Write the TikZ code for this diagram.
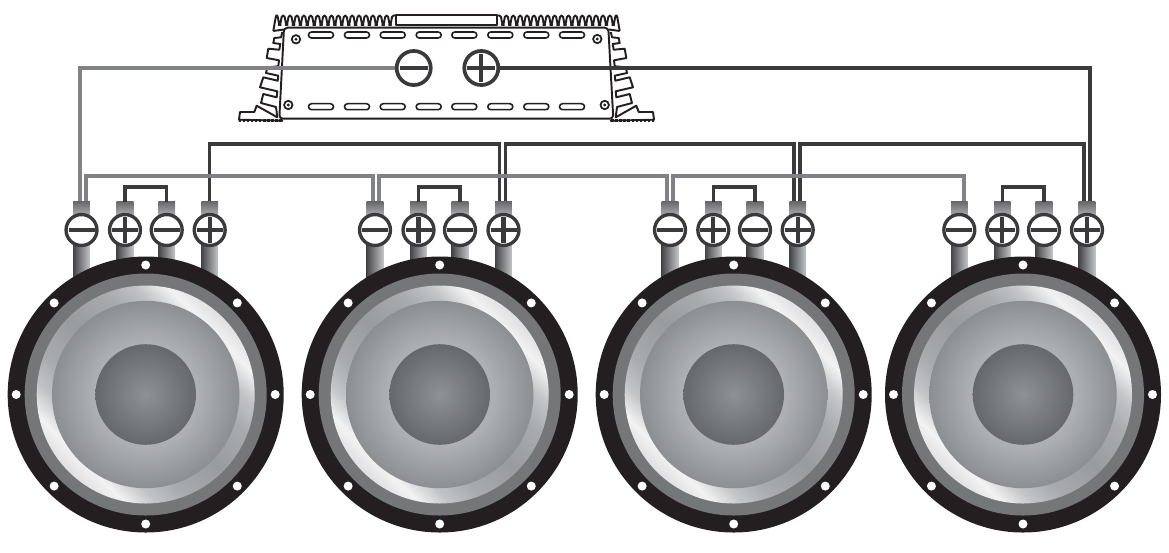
\documentclass[tikz,border=0pt]{standalone}
\definecolor{wiregray}{HTML}{808285}
\definecolor{wiredark}{HTML}{3A3A3C}
\definecolor{flange}{HTML}{231F20}
\definecolor{surround}{HTML}{747678}
\pgfdeclareradialshading{coneshade}{\pgfpoint{0bp}{0bp}}{%
  rgb(0bp)=(0.70,0.71,0.72);
  rgb(14bp)=(0.68,0.69,0.70);
  rgb(25bp)=(0.55,0.56,0.57);
  rgb(50bp)=(0.55,0.56,0.57)}
\pgfdeclareradialshading{capshade}{\pgfpoint{0bp}{0bp}}{%
  rgb(0bp)=(0.56,0.57,0.58);
  rgb(25bp)=(0.40,0.41,0.42);
  rgb(50bp)=(0.40,0.41,0.42)}
\pgfdeclarehorizontalshading{rimshade}{100bp}{%
  rgb(0bp)=(0.88,0.88,0.89);
  rgb(25bp)=(0.88,0.88,0.89);
  rgb(29bp)=(0.95,0.95,0.95);
  rgb(34bp)=(0.76,0.77,0.78);
  rgb(40bp)=(0.66,0.67,0.68);
  rgb(50bp)=(0.60,0.61,0.62);
  rgb(60bp)=(0.66,0.67,0.68);
  rgb(66bp)=(0.76,0.77,0.78);
  rgb(71bp)=(0.95,0.95,0.95);
  rgb(75bp)=(0.88,0.88,0.89);
  rgb(100bp)=(0.88,0.88,0.89)}
\pgfdeclarehorizontalshading{postshade}{100bp}{%
  rgb(0bp)=(0.27,0.27,0.28);
  rgb(25bp)=(0.27,0.27,0.28);
  rgb(75bp)=(0.76,0.77,0.78);
  rgb(100bp)=(0.76,0.77,0.78)}
\pgfdeclareverticalshading{postcap}{100bp}{%
  rgb(0bp)=(0.74,0.75,0.76);
  rgb(25bp)=(0.74,0.75,0.76);
  rgb(75bp)=(0.40,0.40,0.41);
  rgb(100bp)=(0.40,0.40,0.41)}
\tikzset{
  wireg/.style={draw=wiregray,line width=1.9pt},
  wired/.style={draw=wiredark,line width=1.9pt},
  amp/.style={draw=flange,line width=1.1pt,line join=round},
  term/.style={circle,draw=wiredark,fill=white,line width=1.9pt,minimum size=17.6pt,inner sep=0pt},
  bigterm/.style={circle,draw=wiredark,fill=white,line width=2.1pt,minimum size=19.4pt,inner sep=0pt},
  signbar/.style={draw=wiredark,line width=2.3pt},
  slotbox/.style={draw=flange,line width=0.9pt,rounded corners=1.7pt},
  screwb/.style={draw=flange,line width=1pt,fill=white},
}
\begin{document}
\begin{tikzpicture}[x=0.02cm,y=-0.02cm]
\useasboundingbox (0,0) rectangle (1169,552);
% ---------- amplifier ----------
\foreach \sx/\ox in {1/0,-1/893}{
  \begin{scope}[shift={(\ox,0)},xscale=\sx]
    \draw[amp,rounded corners=0.8pt] (273.3,31) -- (276,15.5) -- (277.5,15.5)
      \foreach \k in {0,...,16}{ -- ++(1.8,9.5) -- ++(0.8,0) -- ++(1.8,-9.5) -- ++(2.5,0) } -- (397,15.5);
    \draw[amp] (273.3,31) -- (284,29.5);
    \draw[amp] (282.3,32) -- (281,37.3) -- (274.3,38) -- (273.3,43) -- (280.3,44) -- (279.3,49.7) -- (268.3,48.7) -- (266.7,58) -- (279,60.3) -- (278.3,66.3) -- (267.3,67.3) -- (266,73) -- (278.3,75.7) -- (277.7,80.7) -- (263.3,77.3) -- (260,87.3) -- (277.3,91.3) -- (276.7,97.3) -- (263.3,94) -- (261,103) -- (276,107) -- (277.3,117.3) -- (256.7,105.7) -- (254.3,112) -- (240,112) -- (239,119.7) -- (283,120.7);
    \draw[draw=flange,line width=1.3pt,densely dotted] (239,120.5) -- (283,120.5);
  \end{scope}
}
\draw[amp] (396,25) rectangle (497,15);
\draw[amp,rounded corners=2pt] (284,27.7) -- (608.3,27.7) -- (613.3,118.7) -- (279.3,118.7) -- cycle;
\foreach \sx in {321,357,392.7,428.7,464.3,500.3,536.3,572}{
  \draw[slotbox] (\sx-12.5,32) rectangle (\sx+12.5,38);
  \draw[slotbox] (\sx-12.5,103.7) rectangle (\sx+12.5,109.7);
}
\foreach \sx/\sy in {296/39.3,597.3/39,288.3/105,604.7/105}{
  \draw[screwb] (\sx,\sy) circle [radius=4.2];
  \fill[flange] (\sx,\sy) circle [radius=1.6];
}
\node[bigterm] (ampneg) at (413.7,68) {};
\node[bigterm] (amppos) at (481.3,68) {};
\draw[signbar] (ampneg.center) +(-14,0) -- +(14,0);
\draw[signbar] (amppos.center) +(-14,0) -- +(14,0) (amppos.center) +(0,-14) -- +(0,14);
% ---------- wire end points ----------
\coordinate (ga) at (80,202);
\coordinate (gb) at (86,202);
\coordinate (gc) at (373,202);
\coordinate (gd) at (379,202);
\coordinate (ge) at (667,202);
\coordinate (gf) at (673,202);
\coordinate (gg) at (964,202);
\coordinate (da) at (209.7,202);
\coordinate (db) at (499.5,202);
\coordinate (dc) at (505.8,202);
\coordinate (dd) at (794,202);
\coordinate (de) at (800,202);
\coordinate (df) at (1084,202);
\coordinate (dg) at (1090,202);
\draw[wired] (da) -- ++(0,-58) -| (db);
\draw[wired] (dc) -- ++(0,-58) -| (dd);
\draw[wired] (de) -- ++(0,-58) -| (df);
\draw[wired] (dg) |- (amppos.east);
\draw[wireg] (ga) |- (ampneg.west);
\draw[wireg] (gb) -- ++(0,-26) -| (gc);
\draw[wireg] (gd) -- ++(0,-26) -| (ge);
\draw[wireg] (gf) -- ++(0,-26) -| (gg);
% ---------- speakers ----------
\foreach \n/\cx/\a/\b/\c/\d in {1/145.7/81.5/125/166.7/209.7,2/439.7/375/418.5/460/503.5,3/733.7/670/713.3/755/797.7,4/1023/959.3/1002.3/1044/1087}{
  % posts
  \foreach \px/\pend in {\a/280,\b/270,\c/270,\d/280}{
    \shade[shading=postcap] (\px-8.3,201) rectangle (\px+8.3,219);
    \shade[shading=postshade] (\px-8.3,219) rectangle (\px+8.3,\pend);
  }
  % cone
  \fill[flange] (\cx,394.5) circle [radius=138];
  \fill[surround] (\cx,394.5) circle [radius=121];
  \shade[shading=rimshade,shading angle=45] (\cx,394.5) circle [radius=109];
  \shade[shading=coneshade] (\cx,394.5) circle [radius=93.7];
  \shade[shading=capshade] (\cx,394.5) circle [radius=50.3];
  \foreach \ang in {0,45,...,315}{
    \fill[white] (\cx,394.5) ++(\ang:129.5) circle [radius=4.5];
  }
  % terminals
  \node[term] (neg\n) at (\a,230) {};
  \node[term] (pos\n) at (\b,230) {};
  \node[term] (negb\n) at (\c,230) {};
  \node[term] (posb\n) at (\d,230) {};
  \draw[signbar] (neg\n.center) +(-13,0) -- +(13,0);
  \draw[signbar] (negb\n.center) +(-13,0) -- +(13,0);
  \draw[signbar] (pos\n.center) +(-13,0) -- +(13,0) (pos\n.center) +(0,-13) -- +(0,13);
  \draw[signbar] (posb\n.center) +(-13,0) -- +(13,0) (posb\n.center) +(0,-13) -- +(0,13);
  % jumper
  \coordinate (ja\n) at (\b,202);
  \coordinate (jb\n) at (\c,202);
  \draw[wired] (ja\n) -- ++(0,-15) -| (jb\n);
}
\end{tikzpicture}
\end{document}
